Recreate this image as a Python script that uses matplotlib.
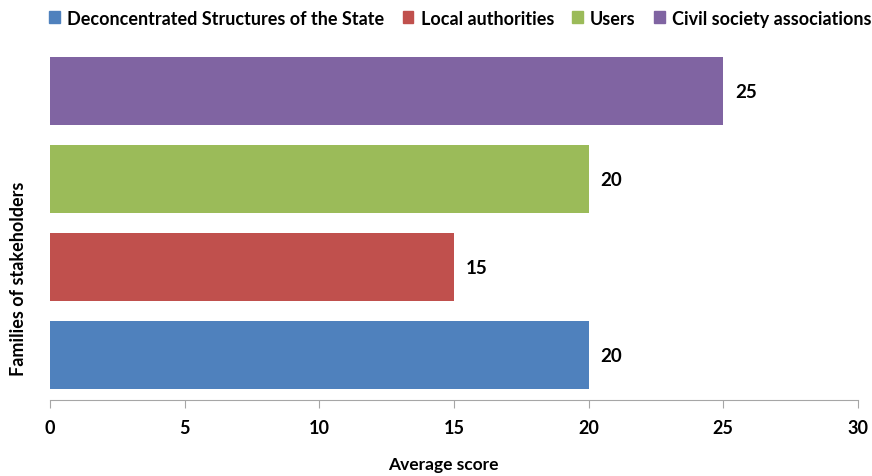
import matplotlib
matplotlib.use("Agg")
import matplotlib.pyplot as plt
from matplotlib.patches import Patch

plt.rcParams['font.family'] = ['Lato', 'DejaVu Sans']
plt.rcParams['font.weight'] = 'bold'

# data (bottom to top)
stakeholders = ["Deconcentrated Structures of the State", "Local authorities",
                "Users", "Civil society associations"]
scores = [20, 15, 20, 25]
colors = ["#4F81BD", "#C0504D", "#9BBB59", "#8064A2"]
xticks = [0, 5, 10, 15, 20, 25, 30]

fig = plt.figure(figsize=(8.72, 4.77), dpi=100)
ax = fig.add_axes([0.0573, 0.1593, 0.9266, 0.7401])

pos = list(range(len(scores)))
ax.barh(pos, scores, height=0.77, color=colors)
for p, s in zip(pos, scores):
    ax.text(s + 0.45, p, str(s), va='center', ha='left', fontsize=13.5, fontweight='bold')

ax.set_xlim(0, 30)
ax.set_ylim(-0.51, 3.5)
ax.set_xticks(xticks)
ax.set_xticklabels([str(t) for t in xticks], fontsize=13, fontweight='bold')
ax.set_yticks([])
ax.tick_params(axis='x', length=6, color='#A6A6A6', pad=8)
for side in ['top', 'right', 'left']:
    ax.spines[side].set_visible(False)
ax.spines['bottom'].set_color('#A6A6A6')
ax.set_xlabel("Average score", fontsize=12.5, fontweight='bold')
ax.xaxis.set_label_coords(0.487, -0.158)
ax.set_ylabel("Families of stakeholders", fontsize=13, fontweight='bold')
ax.yaxis.set_label_coords(-0.029, 0.345)

handles = [Patch(color=c, label=l) for c, l in zip(colors, stakeholders)]
fig.legend(handles=handles, loc='center', bbox_to_anchor=(0.528, 0.96), ncol=4,
           frameon=False, fontsize=13, handlelength=0.6, handleheight=0.6,
           handletextpad=0.4, columnspacing=1.0)

fig.savefig("out.png", dpi=100)
